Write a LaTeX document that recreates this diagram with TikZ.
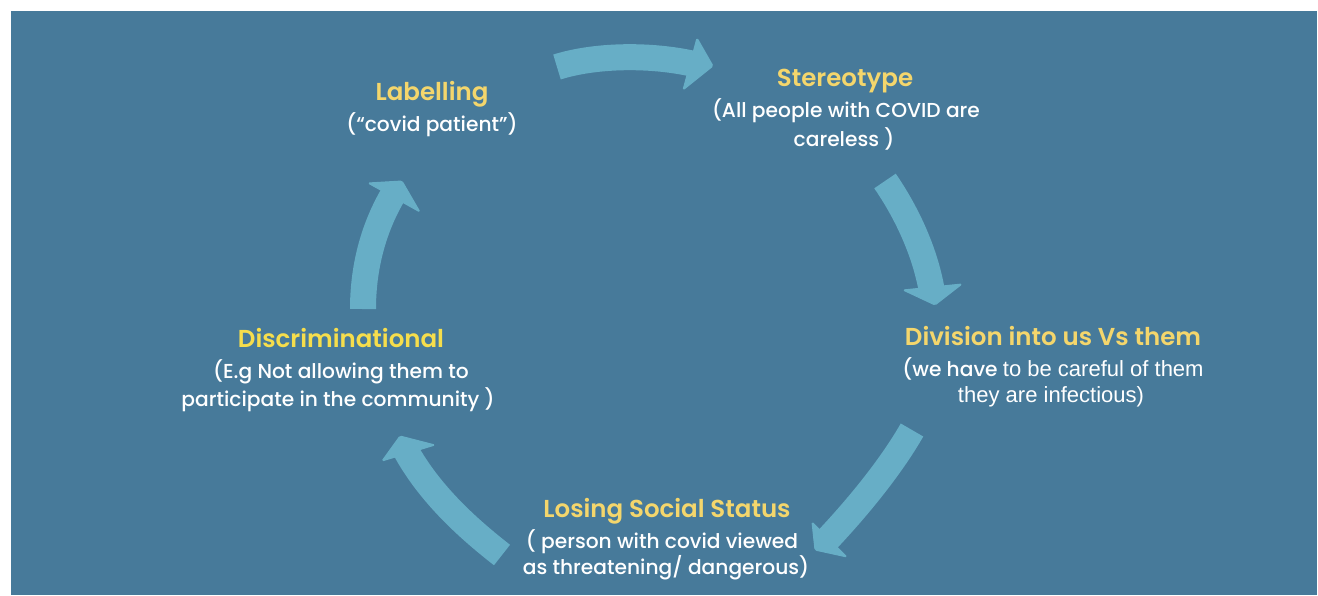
\documentclass[tikz,border=0pt]{standalone}
\usepackage{fontspec}
\setmainfont{Poppins Medium}
\newfontfamily\titlefont{Poppins SemiBold}
\newfontfamily\arialfont{Liberation Sans}[Scale=1.09]
\definecolor{bg}{RGB}{71,122,154}
\definecolor{arr}{RGB}{103,174,198}
\definecolor{ttl}{RGB}{244,214,108}
\definecolor{ttlb}{RGB}{246,222,76}
\begin{document}
\begin{tikzpicture}[x=1pt,y=-1pt,
  ttlnode/.style={anchor=base, text=ttl, font=\titlefont\fontsize{24.5}{28}\selectfont, inner sep=0pt},
  bodynode/.style={anchor=base, text=white, font=\fontsize{20.2}{26}\selectfont, inner sep=0pt},
  shaft/.style={draw=arr, line width=26pt, line cap=butt},
  head/.style={fill=arr, draw=arr, line width=1pt, line join=round, rounded corners=1.5pt}]
\fill[white] (0,0) rectangle (1318,595);
\fill[bg] (11,11) rectangle (1317,595);

% arrows
\coordinate (a1s) at (557,67);  \coordinate (a1e) at (694,64);
\coordinate (a2s) at (885,181); \coordinate (a2e) at (932,292);
\coordinate (a3s) at (912,430); \coordinate (a3e) at (826,541);
\coordinate (a4s) at (502,555); \coordinate (a4e) at (405,449);
\coordinate (a5s) at (363,309); \coordinate (a5e) at (394,193);

\draw[shaft] (a1s) .. controls (595,55) and (650,54) .. (a1e);
\fill[head] (697,38) -- (713,66) -- (683,90) -- cycle;

\draw[shaft] (a2s) .. controls (905,210) and (925,250) .. (a2e);
\fill[head] (903,290) -- (935,305) -- (962,284) -- cycle;

\draw[shaft] (a3s) .. controls (892,465) and (860,505) .. (a3e);
\fill[head] (812,522) -- (815,550) -- (847,557) -- cycle;

\draw[shaft] (a4s) .. controls (470,530) and (430,495) .. (a4e);
\fill[head] (382,461) -- (400,436) -- (435,445) -- cycle;

\draw[shaft] (a5s) .. controls (363,270) and (372,230) .. (a5e);
\fill[head] (368,183) -- (402,181) -- (420,212) -- cycle;

% texts
\node[ttlnode] (labT) at (432,100) {Labelling};
\node[bodynode] (labB) at (432,131) {(“covid patient”)};

\node[ttlnode] (stT) at (845,86) {Stereotype};
\node[bodynode] (stB1) at (846,117) {(All people with COVID are};
\node[bodynode] (stB2) at (844,146) {careless )};

\node[ttlnode] (divT) at (1053,345) {Division into us Vs them};
\node[bodynode] (divB1) at (1053,376) {(we have \arialfont to be careful of them};
\node[bodynode] (divB2) at (1051,402) {\arialfont they are infectious)};

\node[ttlnode] (losT) at (667,517) {Losing Social Status};
\node[bodynode] (losB1) at (662,548) {( person with covid viewed};
\node[bodynode] (losB2) at (666,574) {as threatening/ dangerous)};

\node[ttlnode, text=ttlb] (disT) at (341,347) {Discriminational};
\node[bodynode] (disB1) at (341,378) {(E.g Not allowing them to};
\node[bodynode] (disB2) at (338,406) {participate in the community )};
\end{tikzpicture}
\end{document}
